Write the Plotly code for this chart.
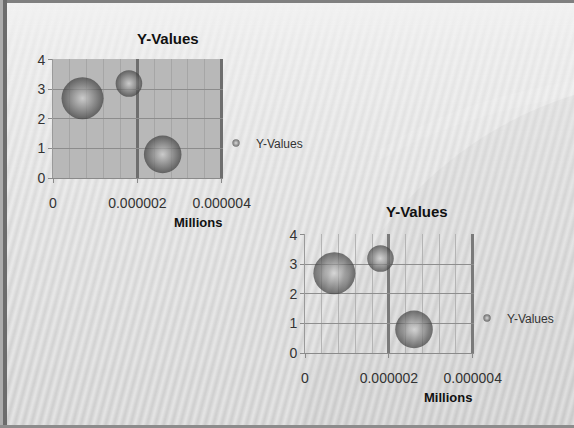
import base64
import plotly.graph_objects as go

# Bubble series (x in units that the axis shows as millions)
x_vals = [0.7, 1.8, 2.6]
y_vals = [2.7, 3.2, 0.8]
bubble_sizes = [10, 4, 8]
series_name = "Y-Values"

x_tick_vals = [0, 2, 4]
x_tick_text = ["0", "0.000002", "0.000004"]
y_tick_vals = [0, 1, 2, 3, 4]

W, H = 574, 428
FONT = "Liberation Sans, Arial, sans-serif"


def dom_x(a, b):
    return [a / W, b / W]


def dom_y(top, bottom):
    return [(H - bottom) / H, (H - top) / H]


# ---- slide-like background: soft vertical gradient, slanted stripes, frame ----
bg_svg = f"""<svg xmlns="http://www.w3.org/2000/svg" width="{W}" height="{H}" viewBox="0 0 {W} {H}" preserveAspectRatio="none">
<defs>
 <linearGradient id="bg" x1="0" y1="0" x2="0" y2="1">
  <stop offset="0" stop-color="#f2f2f2"/>
  <stop offset="0.3" stop-color="#e9e9e9"/>
  <stop offset="1" stop-color="#d3d3d3"/>
 </linearGradient>
 <linearGradient id="sg" x1="0" y1="0" x2="1" y2="0">
  <stop offset="0" stop-color="#ffffff"/>
  <stop offset="0.5" stop-color="#c4c4c4"/>
  <stop offset="1" stop-color="#ffffff"/>
 </linearGradient>
 <pattern id="st" width="8" height="8" patternUnits="userSpaceOnUse" patternTransform="rotate(15)">
  <rect x="0" y="0" width="8" height="8" fill="url(#sg)"/>
 </pattern>
 <linearGradient id="fade" x1="0" y1="0" x2="0" y2="1">
  <stop offset="0" stop-color="#ffffff" stop-opacity="0"/>
  <stop offset="0.1" stop-color="#ffffff" stop-opacity="0.25"/>
  <stop offset="0.5" stop-color="#ffffff" stop-opacity="0.6"/>
  <stop offset="1" stop-color="#ffffff" stop-opacity="0.75"/>
 </linearGradient>
 <mask id="m"><rect width="{W}" height="{H}" fill="url(#fade)"/></mask>
</defs>
<rect width="{W}" height="{H}" fill="url(#bg)"/>
<path d="M 300 428 C 330 260 430 140 574 95 L 574 428 Z" fill="#000000" opacity="0.035"/>
<path d="M 380 150 C 440 110 500 95 574 80 L 574 95 C 500 110 440 125 380 160 Z" fill="#ffffff" opacity="0.12"/>
<rect width="{W}" height="{H}" fill="url(#st)" mask="url(#m)" opacity="0.55"/>
<rect x="0" y="0" width="{W}" height="3" fill="#808080"/>
<rect x="0" y="0" width="3" height="{H}" fill="#acacac"/>
<rect x="3" y="0" width="4" height="{H}" fill="#6c6c6c"/>
<rect x="0" y="{H - 3}" width="{W}" height="3" fill="#8c8c8c"/>
</svg>"""
bg_uri = "data:image/svg+xml;base64," + base64.b64encode(bg_svg.encode()).decode()

# bubble size scaling: largest bubble about 42 px across, area-proportional
max_diam = 42
sizeref = 2.0 * max(bubble_sizes) / max_diam ** 2

bubble_marker = dict(
    size=bubble_sizes,
    sizemode="area",
    sizeref=sizeref,
    color="#3c3c3c",
    gradient=dict(type="radial", color="#d2d2d2"),
    line=dict(width=0),
)

fig = go.Figure()
fig.add_trace(go.Scatter(
    x=x_vals, y=y_vals, mode="markers", name=series_name,
    marker=bubble_marker, xaxis="x", yaxis="y", legend="legend",
))
fig.add_trace(go.Scatter(
    x=x_vals, y=y_vals, mode="markers", name=series_name,
    marker=bubble_marker, xaxis="x2", yaxis="y2", legend="legend2",
))

tick_font = dict(family=FONT, size=14, color="#333333")

# a hair of headroom past 4 keeps the gridlines at the far edges visible
AXIS_RANGE = [0, 4.03]


def x_axis(domain, anchor, minor_color, major_color):
    return dict(
        domain=domain, anchor=anchor, range=AXIS_RANGE,
        tickvals=x_tick_vals, ticktext=x_tick_text,
        ticks="outside", ticklen=4, tickcolor="#8a8a8a", tickfont=tick_font,
        ticklabelstandoff=8,
        showline=True, linecolor="#8a8a8a", linewidth=1,
        showgrid=True, gridcolor=major_color, gridwidth=3,
        zeroline=False,
        minor=dict(dtick=0.4, showgrid=True, gridcolor=minor_color, gridwidth=1, ticks=""),
        fixedrange=True,
    )


def y_axis(domain, anchor, grid_color):
    return dict(
        domain=domain, anchor=anchor, range=AXIS_RANGE,
        tickvals=y_tick_vals,
        ticks="outside", ticklen=4, tickcolor="#8a8a8a", tickfont=tick_font,
        showline=True, linecolor="#9a9a9a", linewidth=1,
        showgrid=True, gridcolor=grid_color, gridwidth=1,
        zeroline=False, fixedrange=True,
    )


title_font = dict(family=FONT, size=15, color="#111111", weight="bold")
label_font = dict(family=FONT, size=13, color="#111111", weight="bold")
legend_font = dict(family=FONT, size=12, color="#333333")


def label(text, cx, cy, font):
    return dict(text=text, x=cx / W, y=1 - cy / H, xref="paper", yref="paper",
                xanchor="center", yanchor="middle", showarrow=False, font=font)


fig.update_layout(
    width=W, height=H,
    margin=dict(l=0, r=0, t=0, b=0, autoexpand=False),
    paper_bgcolor="#e6e6e6",
    plot_bgcolor="rgba(0,0,0,0)",
    images=[dict(source=bg_uri, xref="paper", yref="paper", x=0, y=1,
                 sizex=1, sizey=1, xanchor="left", yanchor="top",
                 sizing="stretch", layer="below")],
    xaxis=x_axis(dom_x(53, 223), "y", "#a6a6a6", "#6e6e6e"),
    yaxis=y_axis(dom_y(59, 178), "x", "#8c8c8c"),
    xaxis2=x_axis(dom_x(305, 474), "y2", "#b4b4b4", "#7a7a7a"),
    yaxis2=y_axis(dom_y(234, 353), "x2", "#8e8e8e"),
    shapes=[dict(type="rect", xref="x domain", yref="y domain", x0=0, x1=1, y0=0, y1=1,
                 fillcolor="#b8b8b8", line=dict(width=0), layer="below")],
    annotations=[
        label(series_name, 168, 39, title_font),
        label("Millions", 198, 222, label_font),
        label(series_name, 417, 212, title_font),
        label("Millions", 448, 397, label_font),
    ],
    legend=dict(x=216 / W, y=1 - 143 / H, xanchor="left", yanchor="middle",
                bgcolor="rgba(0,0,0,0)", font=legend_font, itemwidth=30),
    legend2=dict(x=467 / W, y=1 - 318 / H, xanchor="left", yanchor="middle",
                 bgcolor="rgba(0,0,0,0)", font=legend_font, itemwidth=30),
    showlegend=True,
)

fig.write_html("out.html")
